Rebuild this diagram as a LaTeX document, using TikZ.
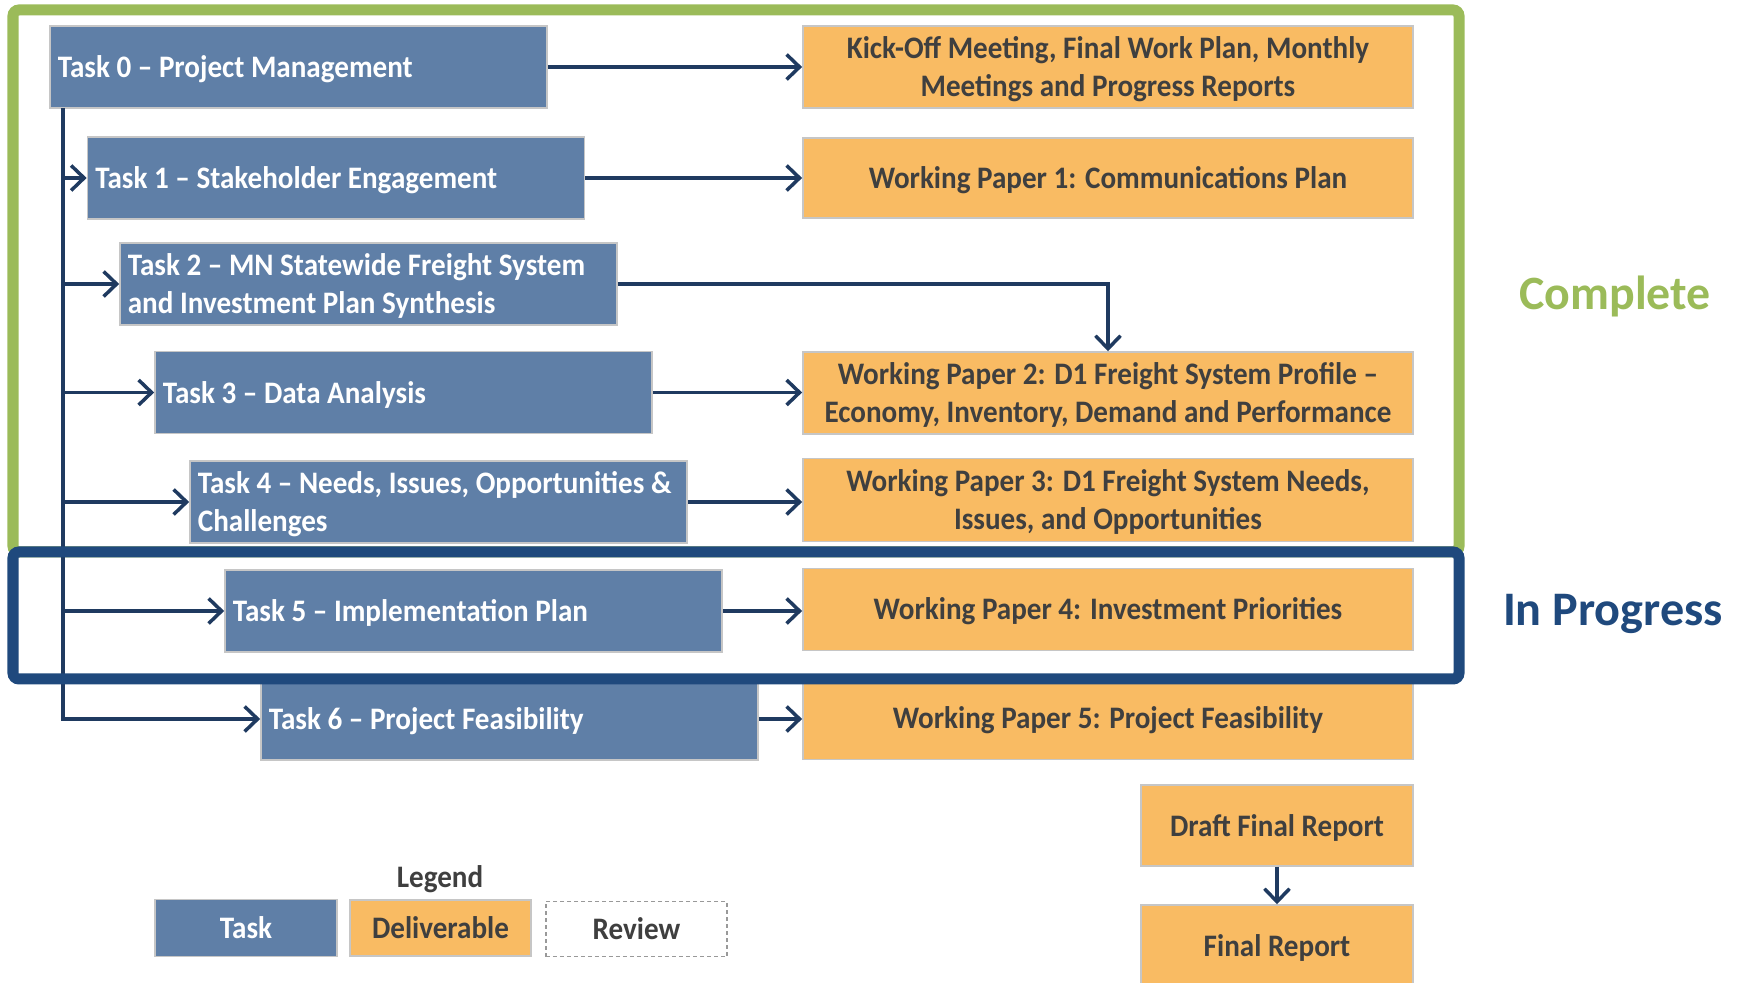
\documentclass[tikz,border=0pt]{standalone}
\usepackage{fontspec}
\setmainfont{Carlito}[FakeStretch=0.93]
\newfontfamily\labfont{Carlito}
\usetikzlibrary{arrows.meta,calc}
\definecolor{taskblue}{HTML}{5F7FA7}
\definecolor{delorange}{HTML}{F9BB63}
\definecolor{navy}{HTML}{1F3A60}
\definecolor{frameblue}{HTML}{1F497D}
\definecolor{framegreen}{HTML}{9BBB59}
\definecolor{deltext}{HTML}{3F3F3F}
\tikzset{
  boxtxt/.style={font=\fontsize{8.9}{10.7}\selectfont\bfseries},
  taskbox/.style={fill=taskblue, draw=gray!45, line width=0.4pt,
    minimum width=4.97cm, minimum height=0.82cm, inner sep=0pt},
  delbox/.style={fill=delorange, draw=gray!45, line width=0.4pt,
    minimum width=6.10cm, minimum height=0.82cm, inner sep=0pt},
  conn/.style={draw=navy, line width=0.035cm, -{Straight Barb[length=1.3mm,width=2.5mm,line width=0.035cm]}},
  tasklbl/.style={anchor=west, inner sep=0pt, text=white, boxtxt, align=left},
  dellbl/.style={inner sep=0pt, text=deltext, boxtxt, align=center}
}
\begin{document}
\begin{tikzpicture}[x=0.01cm,y=-0.01cm]
\useasboundingbox (0,0) rectangle (1741,983);
% green frame
\draw[framegreen, line width=0.11cm, rounded corners=0.06cm] (13,10) rectangle (1459,552);
% task boxes
\node[taskbox] (T0) at (298.5,67) {};
\node[tasklbl] at ($(T0.west)+(8,2)$) {Task 0 – Project Management};
\node[taskbox] (T1) at (336,178) {};
\node[tasklbl] at ($(T1.west)+(8,2)$) {Task 1 – Stakeholder Engagement};
\node[taskbox] (T2) at (368.5,284) {};
\node[tasklbl] at ($(T2.west)+(8,2)$) {Task 2 – MN Statewide Freight System\\and Investment Plan Synthesis};
\node[taskbox] (T3) at (403.5,392.5) {};
\node[tasklbl] at ($(T3.west)+(8,2)$) {Task 3 – Data Analysis};
\node[taskbox] (T4) at (438.5,502) {};
\node[tasklbl] at ($(T4.west)+(8,2)$) {Task 4 – Needs, Issues, Opportunities \&\\Challenges};
\node[taskbox] (T5) at (473.5,611) {};
\node[tasklbl] at ($(T5.west)+(8,2)$) {Task 5 – Implementation Plan};
\node[taskbox] (T6) at (509.5,719) {};
\node[tasklbl] at ($(T6.west)+(8,2)$) {Task 6 – Project Feasibility};
% deliverables
\node[delbox] (D0) at (1108,67) {};
\node[dellbl] at ($(D0)+(0,2)$) {Kick-Off Meeting, Final Work Plan, Monthly\\Meetings and Progress Reports};
\node[delbox, minimum height=0.80cm] (D1) at (1108,178) {};
\node[dellbl] at ($(D1)+(0,2)$) {Working Paper 1: Communications Plan};
\node[delbox] (D2) at (1108,393) {};
\node[dellbl] at ($(D2)+(0,2)$) {Working Paper 2: D1 Freight System Profile –\\Economy, Inventory, Demand and Performance};
\node[delbox, minimum height=0.83cm] (D3) at (1108,500) {};
\node[dellbl] at ($(D3)+(0,2)$) {Working Paper 3: D1 Freight System Needs,\\Issues, and Opportunities};
\node[delbox] (D4) at (1108,609.5) {};
\node[dellbl] at ($(D4)+(0,2)$) {Working Paper 4: Investment Priorities};
\node[delbox] (D5) at (1108,718.5) {};
\node[dellbl] at ($(D5)+(0,2)$) {Working Paper 5: Project Feasibility};
\node[delbox, minimum width=2.72cm, minimum height=0.81cm] (DR) at (1277,825.5) {};
\node[dellbl] at ($(DR)+(0,2)$) {Draft Final Report};
\node[delbox, minimum width=2.72cm, minimum height=0.80cm] (FR) at (1277,945) {};
\node[dellbl] at ($(FR)+(0,2.5)$) {Final Report};
% connectors task -> deliverable
\draw[conn] (T0.east) -- (T0.east -| D0.west);
\draw[conn] (T1.east) -- (T1.east -| D1.west);
\draw[conn] (T2.east) -| (D2.north);
\draw[conn] (T3.east) -- (T3.east -| D2.west);
\draw[conn] (T4.east) -- (T4.east -| D3.west);
\draw[conn] (T5.east) -- (T5.east -| D4.west);
\draw[conn] (T6.east) -- (T6.east -| D5.west);
\draw[conn] (DR.south) -- (FR.north);
% trunk
\coordinate (trunk) at (63,108);
\draw[conn] (trunk) |- (T6.west);
\draw[conn] (trunk |- T1.west) -- (T1.west);
\draw[conn] (trunk |- T2.west) -- (T2.west);
\draw[conn] (trunk |- T3.west) -- (T3.west);
\draw[conn] (trunk |- T4.west) -- (T4.west);
\draw[conn] (trunk |- T5.west) -- (T5.west);
% blue frame
\draw[frameblue, line width=0.11cm, rounded corners=0.06cm] (13,552) rectangle (1459,679);
% status labels
\node[font=\labfont\fontsize{13.6}{16}\selectfont\bfseries, text=framegreen] (cmp) at (1615,296) {Complete};
\node[font=\labfont\fontsize{13.7}{16}\selectfont\bfseries, text=frameblue] (inp) at (1613,614) {In Progress};
% legend
\node[boxtxt, text=deltext] (leg) at (440,879) {Legend};
\node[boxtxt, fill=taskblue, draw=gray!45, text=white, minimum width=1.82cm, minimum height=0.57cm] (LT) at (246,928) {Task};
\node[boxtxt, fill=delorange, draw=gray!45, text=deltext, minimum width=1.81cm, minimum height=0.56cm] (LD) at (440.5,928) {Deliverable};
\node[boxtxt, fill=white, draw=gray!80, dashed, dash pattern=on 0.04cm off 0.03cm, text=deltext, minimum width=1.81cm, minimum height=0.55cm] (LR) at (636.5,929) {Review};
\end{tikzpicture}
\end{document}
